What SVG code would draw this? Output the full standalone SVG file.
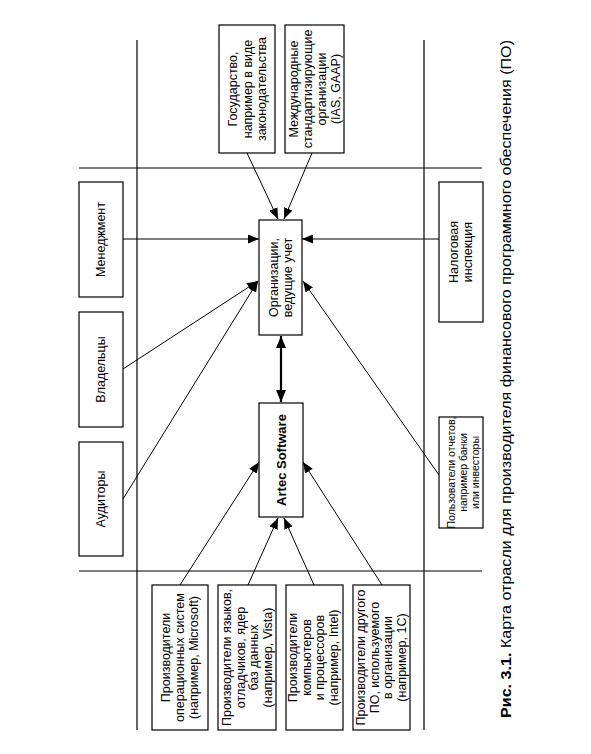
<svg xmlns="http://www.w3.org/2000/svg" width="591" height="754" viewBox="0 0 591 754">
<style>
.box{fill:#fff;stroke:#000;stroke-width:1.2}
.frame{stroke:#000;stroke-width:1.2;fill:none}
.t{font-family:"Liberation Sans",Arial,sans-serif;font-size:12.5px;text-anchor:middle;fill:#000}
.s{font-size:10.5px}
.b{font-weight:bold;font-size:13px}
.c{stroke:#000;stroke-width:1;fill:none;marker-end:url(#ah)}
.d{stroke:#000;stroke-width:2.2;fill:none;marker-end:url(#ah2);marker-start:url(#ah2)}
.cap{font-family:"Liberation Sans",Arial,sans-serif;font-size:14px;fill:#000}
</style>
<defs>
<marker id="ah" markerUnits="userSpaceOnUse" markerWidth="11" markerHeight="9" refX="11" refY="4.5" orient="auto"><path d="M0,0 L11,4.5 L0,9 z" fill="#000"/></marker>
<marker id="ah2" markerUnits="userSpaceOnUse" markerWidth="12" markerHeight="10" refX="12" refY="5" orient="auto-start-reverse"><path d="M0,0 L12,5 L0,10 z" fill="#000"/></marker>
</defs>
<rect width="591" height="754" fill="#fff"/>
<g id="frame">
<line class="frame" x1="79" y1="168" x2="482" y2="168"/>
<line class="frame" x1="79" y1="571" x2="482" y2="571"/>
<line class="frame" x1="137" y1="40" x2="137" y2="730"/>
<line class="frame" x1="424" y1="40" x2="424" y2="730"/>
</g>
<g id="connectors">
<line class="c" x1="247" y1="153" x2="278" y2="219"/>
<line class="c" x1="312" y1="153" x2="284" y2="219"/>
<line class="c" x1="123" y1="239" x2="259" y2="239"/>
<line class="c" x1="439" y1="239" x2="302" y2="239"/>
<line class="c" x1="123" y1="369" x2="258" y2="281"/>
<line class="c" x1="123" y1="499" x2="258" y2="281"/>
<line class="c" x1="439" y1="475" x2="303" y2="281"/>
<line class="d" x1="281" y1="336" x2="281" y2="402"/>
<line class="c" x1="180" y1="585" x2="259" y2="462"/>
<line class="c" x1="382" y1="585" x2="303" y2="462"/>
<line class="c" x1="248" y1="585" x2="278" y2="518"/>
<line class="c" x1="314" y1="585" x2="284" y2="518"/>
</g>
<g id="gos"><rect class="box" x="219" y="25" width="56" height="128"/>
<text class="t" transform="translate(247,89) rotate(-90)"><tspan x="0" y="-9.8">Государство,</tspan><tspan x="0" y="4.6">например в виде</tspan><tspan x="0" y="19">законодательства</tspan></text></g>
<g id="mezh"><rect class="box" x="285" y="25" width="59" height="128"/>
<text class="t" transform="translate(314.5,89) rotate(-90)"><tspan x="0" y="-16.8">Международные</tspan><tspan x="0" y="-2.8">стандартизирующие</tspan><tspan x="0" y="11.2">организации</tspan><tspan x="0" y="25.2">(IAS, GAAP)</tspan></text></g>
<g id="org"><rect class="box" x="259" y="220" width="43" height="115"/>
<text class="t" transform="translate(280.5,277.5) rotate(-90)"><tspan x="0" y="-3">Организации,</tspan><tspan x="0" y="11.5">ведущие учет</tspan></text></g>
<g id="artec"><rect class="box" x="259" y="403" width="44" height="114"/>
<text class="t b" transform="translate(281,460) rotate(-90)" x="0" y="4.6">Artec  Software</text></g>
<g id="men"><rect class="box" x="79" y="182" width="44" height="115"/>
<text class="t" transform="translate(101,239.5) rotate(-90)" x="0" y="4.4">Менеджмент</text></g>
<g id="vlad"><rect class="box" x="79" y="312" width="44" height="115"/>
<text class="t" transform="translate(101,369.5) rotate(-90)" x="0" y="4.4">Владельцы</text></g>
<g id="aud"><rect class="box" x="79" y="442" width="44" height="114"/>
<text class="t" transform="translate(101,499) rotate(-90)" x="0" y="4.4">Аудиторы</text></g>
<g id="nalog"><rect class="box" x="439" y="182" width="44" height="140"/>
<text class="t" transform="translate(461,252) rotate(-90)"><tspan x="0" y="-2.8">Налоговая</tspan><tspan x="0" y="11.2">инспекция</tspan></text></g>
<g id="polz"><rect class="box" x="439" y="417" width="44" height="111"/>
<text class="t s" transform="translate(463,472.5) rotate(-90)"><tspan x="0" y="-8.3">Пользователи отчетов,</tspan><tspan x="0" y="3.7">например банки</tspan><tspan x="0" y="15.7">или инвесторы</tspan></text></g>
<g id="b1"><rect class="box" x="152" y="585" width="56" height="145"/>
<text class="t" transform="translate(180,657.5) rotate(-90)"><tspan x="0" y="-9.8">Производители</tspan><tspan x="0" y="4.2">операционных систем</tspan><tspan x="0" y="18.2">(например, Microsoft)</tspan></text></g>
<g id="b2"><rect class="box" x="218" y="585" width="58" height="145"/>
<text class="t" transform="translate(247,657.5) rotate(-90)"><tspan x="0" y="-16">Производители языков,</tspan><tspan x="0" y="-2.5">отладчиков, ядер</tspan><tspan x="0" y="11">баз данных</tspan><tspan x="0" y="24.5">(например, Vista)</tspan></text></g>
<g id="b3"><rect class="box" x="286" y="585" width="57" height="145"/>
<text class="t" transform="translate(313,657.5) rotate(-90)"><tspan x="0" y="-16">Производители</tspan><tspan x="0" y="-2.5">компьютеров</tspan><tspan x="0" y="11">и процессоров</tspan><tspan x="0" y="24.5">(например, Intel)</tspan></text></g>
<g id="b4"><rect class="box" x="353" y="585" width="57" height="145"/>
<text class="t" transform="translate(381,657.5) rotate(-90)"><tspan x="0" y="-16">Производители другого</tspan><tspan x="0" y="-2.5">ПО, используемого</tspan><tspan x="0" y="11">в организации</tspan><tspan x="0" y="24.5">(например, 1С)</tspan></text></g>
<g id="caption">
<text class="cap" transform="translate(511,718) rotate(-90)" x="0" y="0" textLength="678" lengthAdjust="spacingAndGlyphs"><tspan font-weight="bold">Рис. 3.1.</tspan> Карта отрасли для производителя финансового программного обеспечения (ПО)</text>
</g>
</svg>
